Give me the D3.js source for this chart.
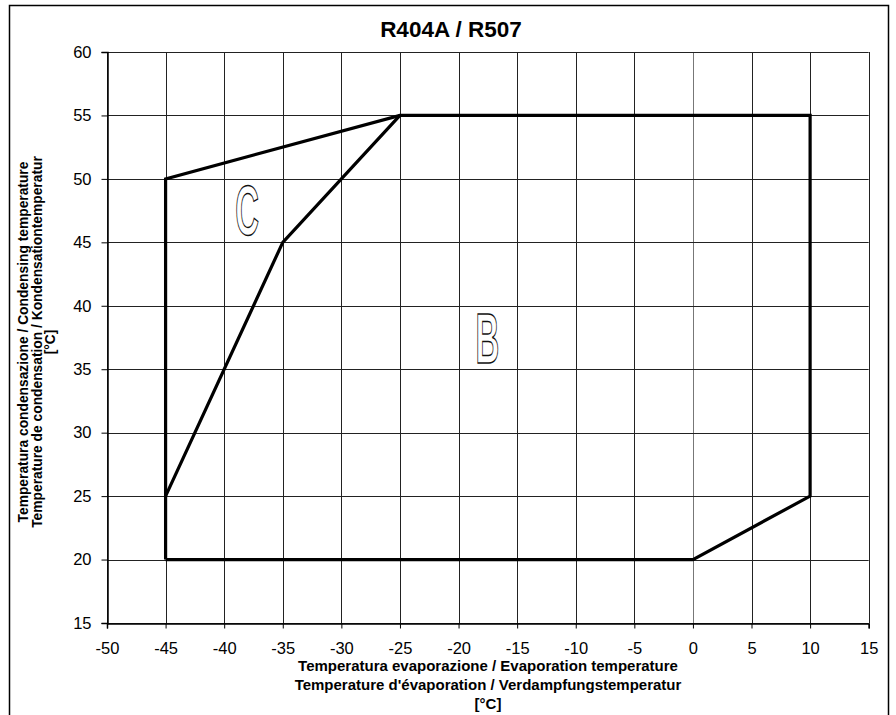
<!DOCTYPE html>
<html>
<head>
<meta charset="utf-8">
<script src="https://cdn.jsdelivr.net/npm/d3@7"></script>
<style>
  body { margin: 0; background: #fff; }
  text { font-family: "Liberation Sans", Arial, sans-serif; fill: #000; }
</style>
</head>
<body>
<svg id="chart" width="896" height="715"></svg>
<script>
// envelope data (evaporation °C, condensation °C)
var outline = [[-45, 20], [-45, 50], [-25, 55], [10, 55], [10, 25], [0, 20], [-45, 20]];
var divider = [[-45, 25], [-35, 45], [-25, 55]];
var zoneLabels = [{name: 'C', x: -38.05, y: 47.6, size: 70}, {name: 'B', x: -17.55, y: 37.45, size: 70}];
var xTicks = d3.range(-50, 16, 5);
var yTicks = d3.range(15, 61, 5);

var margin = {top: 52, right: 27, bottom: 92, left: 107},
    width = 896, height = 715;

var svg = d3.select('#chart');

// outer frame
svg.append('rect')
    .attr('x', 9.5).attr('y', 5.5)
    .attr('width', 879).attr('height', 720)
    .attr('fill', 'none').attr('stroke', '#000').attr('stroke-width', 1.5);

var x = d3.scaleLinear().domain([-50, 15]).range([margin.left, width - margin.right - 0.3]);
var y = d3.scaleLinear().domain([15, 60]).range([height - margin.bottom, margin.top]);

//------------------------------------------------------------
// grid
var grid = svg.append('g').attr('class', 'grid');
grid.selectAll('line.v').data(xTicks).enter().append('line')
    .attr('class', 'v')
    .attr('x1', function (d) { return Math.round(x(d)) + 0.5; })
    .attr('x2', function (d) { return Math.round(x(d)) + 0.5; })
    .attr('y1', y(60)).attr('y2', y(15))
    .attr('stroke', function (d) { return d === 0 ? '#777' : '#222'; })
    .attr('stroke-width', 1);
grid.selectAll('line.h').data(yTicks).enter().append('line')
    .attr('class', 'h')
    .attr('y1', function (d) { return Math.round(y(d)) + 0.5; })
    .attr('y2', function (d) { return Math.round(y(d)) + 0.5; })
    .attr('x1', x(-50)).attr('x2', x(15))
    .attr('stroke', '#222')
    .attr('stroke-width', 1);

//------------------------------------------------------------
// axes
var xAxis = svg.append('g')
    .attr('transform', 'translate(0,' + (Math.round(y(15)) + 0.5) + ')')
    .call(d3.axisBottom(x).tickValues(xTicks).tickSize(5).tickPadding(14).tickFormat(d3.format('d')));
var yAxis = svg.append('g')
    .attr('transform', 'translate(' + (Math.round(x(-50)) + 0.5) + ',0)')
    .call(d3.axisLeft(y).tickValues(yTicks).tickSize(6).tickPadding(10).tickFormat(d3.format('d')));

[xAxis, yAxis].forEach(function (a) {
  a.select('.domain').attr('stroke', '#000').attr('stroke-width', 1.5);
  a.selectAll('.tick line').attr('stroke', '#000');
  a.selectAll('.tick text')
      .style('font-family', '"Liberation Sans", Arial, sans-serif')
      .style('font-size', '16.5px')
      .attr('fill', '#000');
});
// d3 uses a unicode minus, the original uses a hyphen
xAxis.selectAll('.tick text').text(function (d) { return String(d); });

//------------------------------------------------------------
// envelope
var line = d3.line()
    .x(function (d) { return x(d[0]); })
    .y(function (d) { return y(d[1]); });

svg.append('path')
    .datum(outline)
    .attr('d', line)
    .attr('fill', 'none').attr('stroke', '#000').attr('stroke-width', 3.2)
    .attr('stroke-linejoin', 'miter');
svg.append('path')
    .datum(divider)
    .attr('d', line)
    .attr('fill', 'none').attr('stroke', '#000').attr('stroke-width', 3.2);

// hollow zone letters (condensed)
svg.selectAll('text.zone').data(zoneLabels).enter().append('text')
    .attr('class', 'zone')
    .attr('transform', function (d) { return 'translate(' + x(d.x) + ',' + y(d.y) + ') scale(0.47,1)'; })
    .attr('text-anchor', 'middle')
    .attr('dy', '0.36em')
    .style('font-size', function (d) { return d.size + 'px'; })
    .style('font-weight', 'bold')
    .style('fill', '#fff')
    .attr('stroke', '#111')
    .attr('stroke-width', 1.4)
    .text(function (d) { return d.name; });

//------------------------------------------------------------
// titles
svg.append('text')
    .attr('x', 451).attr('y', 37)
    .attr('text-anchor', 'middle')
    .style('font-size', '22.5px').style('font-weight', 'bold')
    .text('R404A / R507');

var xTitle = ['Temperatura evaporazione / Evaporation temperature',
              "Temperature d'évaporation / Verdampfungstemperatur",
              '[°C]'];
svg.selectAll('text.xt').data(xTitle).enter().append('text')
    .attr('class', 'xt')
    .attr('x', 488)
    .attr('y', function (d, i) { return 671 + i * 19; })
    .attr('text-anchor', 'middle')
    .style('font-size', '15px').style('font-weight', 'bold')
    .text(function (d) { return d; });

var yTitle = ['Temperatura condensazione / Condensing temperature',
              'Temperature de condensation / Kondensationtemperatur',
              '[°C]'];
svg.selectAll('text.yt').data(yTitle).enter().append('text')
    .attr('class', 'yt')
    .attr('transform', function (d, i) { return 'translate(' + (28 + i * 13.5) + ',' + 342 + ') rotate(-90)'; })
    .attr('text-anchor', 'middle')
    .style('font-size', '13.8px').style('font-weight', 'bold')
    .text(function (d) { return d; });
</script>
</body>
</html>
